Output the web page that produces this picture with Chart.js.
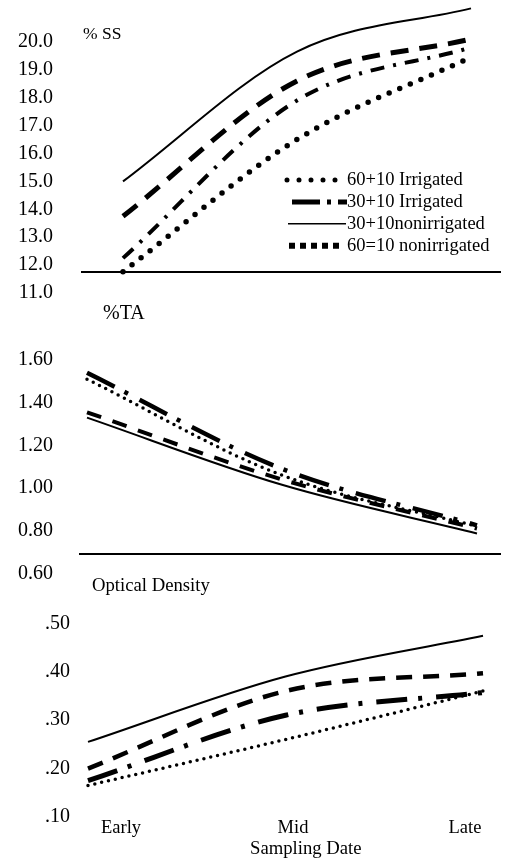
<!DOCTYPE html>
<html>
<head>
<meta charset="utf-8">
<script src="https://cdn.jsdelivr.net/npm/chart.js@4.4.1/dist/chart.umd.min.js"></script>
<style>
  html, body { margin: 0; padding: 0; background: #fff; overflow: hidden; }
  body { width: 508px; height: 859px; position: relative; font-family: 'Liberation Serif', 'Times New Roman', serif; }
  canvas { position: absolute; left: 0; }
  .lbl { position: absolute; color: #000; white-space: nowrap; line-height: 1; transform: translateY(-50%); }
</style>
</head>
<body>
<canvas id="ssChart" width="508" height="310" style="top:0"></canvas>
<canvas id="taChart" width="508" height="270" style="top:320px"></canvas>
<canvas id="odChart" width="508" height="269" style="top:590px"></canvas>
<div class="lbl" style="left:83px;top:34px;font-size:17.5px">% SS</div>
<div class="lbl" style="left:103px;top:312px;font-size:20px">%TA</div>
<div class="lbl" style="left:92px;top:585px;font-size:18.7px">Optical Density</div>
<div class="lbl" style="left:250px;top:848px;font-size:18.7px">Sampling Date</div>
<script>
const categories = ['Early', 'Mid', 'Late'];
const seriesNames = ['60+10 Irrigated', '30+10 Irrigated', '30+10nonirrigated', '60=10 nonirrigated'];

// % soluble solids
const ss60Irr = [11.76, 16.5, 19.45];
const ss30Irr = [12.25, 17.9, 19.8];
const ss30Non = [15.0, 19.65, 21.2];
const ss60Non = [13.75, 18.6, 20.1];
const ssTicks = [11, 12, 13, 14, 15, 16, 17, 18, 19, 20];

// % titratable acidity
const ta60Irr = [1.51, 1.06, 0.82];
const ta30Irr = [1.54, 1.09, 0.825];
const ta30Non = [1.33, 1.015, 0.787];
const ta60Non = [1.355, 1.04, 0.81];
const taTicks = [0.6, 0.8, 1.0, 1.2, 1.4, 1.6];

// optical density
const od60Irr = [0.165, 0.26, 0.36];
const od30Irr = [0.175, 0.31, 0.357];
const od30Non = [0.255, 0.39, 0.474];
const od60Non = [0.20, 0.36, 0.397];
const odTicks = [0.1, 0.2, 0.3, 0.4, 0.5];

Chart.defaults.font.family = "'Liberation Serif', 'Times New Roman', serif";
Chart.defaults.color = '#000';

const tickFont = { size: 20 };

const toPoints = (vals) => vals.map((v, i) => ({ x: i, y: v }));

const makeSet = (label, vals, style) => Object.assign({
  label: label,
  data: toPoints(vals),
  borderColor: '#000',
  pointRadius: 0,
  cubicInterpolationMode: 'monotone',
  fill: false,
  clip: false
}, style);

// legend keys for the top panel (drawn as in the original, not the plotted dashes)
const legendKeys = {
  id: 'legendKeys',
  afterDatasetsDraw(chart, args, opts) {
    if (!opts.keys) return;
    const ctx = chart.ctx;
    ctx.save();
    ctx.font = opts.font;
    ctx.fillStyle = '#000';
    ctx.textBaseline = 'middle';
    chart.data.datasets.forEach((ds, i) => {
      const k = opts.keys[i];
      const y = opts.top + i * opts.rowHeight;
      ctx.beginPath();
      ctx.strokeStyle = '#000';
      ctx.setLineDash(k.dash);
      ctx.lineCap = k.cap;
      ctx.lineWidth = k.width;
      ctx.moveTo(k.from, y);
      ctx.lineTo(k.to, y);
      ctx.stroke();
      ctx.setLineDash([]);
      ctx.fillText(ds.label, opts.textLeft, y);
    });
    ctx.restore();
  }
};

const baseOptions = {
  responsive: false,
  maintainAspectRatio: false,
  animation: false,
  events: [],
  plugins: { legend: { display: false }, tooltip: { enabled: false } }
};

const yAxis = (min, max, ticks, width, pad, fmt) => ({
  min: min,
  max: max,
  afterBuildTicks: (s) => { s.ticks = ticks.map(v => ({ value: v })); },
  afterFit: (s) => { s.width = width; s.paddingTop = 0; s.paddingBottom = 0; },
  ticks: { padding: pad, font: tickFont, callback: fmt },
  grid: { display: false, drawTicks: false },
  border: { display: false }
});

// top panel: % SS
new Chart(document.getElementById('ssChart'), {
  type: 'line',
  data: {
    datasets: [
      makeSet(seriesNames[0], ss60Irr, { borderWidth: 5.5, borderDash: [0, 11.5], borderCapStyle: 'round' }),
      makeSet(seriesNames[1], ss30Irr, { borderWidth: 4, borderDash: [14, 9, 3, 9] }),
      makeSet(seriesNames[2], ss30Non, { borderWidth: 2 }),
      makeSet(seriesNames[3], ss60Non, { borderWidth: 5, borderDash: [18, 11] })
    ]
  },
  options: Object.assign({}, baseOptions, {
    layout: { padding: { left: 0, right: 8, top: 5, bottom: 17 } },
    scales: {
      x: {
        type: 'linear', min: -0.2356, max: 2.1667,
        position: { y: 11.76 },
        ticks: { display: false },
        grid: { display: false, drawTicks: false },
        border: { display: true, color: '#000', width: 2 }
      },
      y: yAxis(11, 21.32, ssTicks, 82, 29, v => v.toFixed(1))
    },
    plugins: Object.assign({}, baseOptions.plugins, {
      legendKeys: {
        font: "18.5px 'Liberation Serif'",
        top: 180, rowHeight: 21.9, textLeft: 347,
        keys: [
          { dash: [0, 12], cap: 'round', width: 5, from: 287, to: 336 },
          { dash: [28, 7, 4, 7], cap: 'butt', width: 5, from: 292, to: 347 },
          { dash: [], cap: 'butt', width: 1.5, from: 288, to: 346 },
          { dash: [6, 5], cap: 'butt', width: 6, from: 289, to: 342 }
        ]
      }
    })
  }),
  plugins: [legendKeys]
});

// middle panel: %TA
new Chart(document.getElementById('taChart'), {
  type: 'line',
  data: {
    datasets: [
      makeSet(seriesNames[0], ta60Irr, { borderWidth: 3.5, borderDash: [0, 7], borderCapStyle: 'round' }),
      makeSet(seriesNames[1], ta30Irr, { borderWidth: 4.5, borderDash: [31, 11, 4, 13] }),
      makeSet(seriesNames[2], ta30Non, { borderWidth: 2 }),
      makeSet(seriesNames[3], ta60Non, { borderWidth: 4, borderDash: [15, 12] })
    ]
  },
  options: Object.assign({}, baseOptions, {
    layout: { padding: { left: 0, right: 8, top: 20, bottom: 16.7 } },
    scales: {
      x: {
        type: 'linear', min: -0.0359, max: 2.118,
        position: { y: 0.689 },
        ticks: { display: false },
        grid: { display: false, drawTicks: false },
        border: { display: true, color: '#000', width: 2 }
      },
      y: yAxis(0.6, 1.694, taTicks, 80, 27, v => v.toFixed(2))
    }
  })
});

// bottom panel: optical density
new Chart(document.getElementById('odChart'), {
  type: 'line',
  data: {
    datasets: [
      makeSet(seriesNames[0], od60Irr, { borderWidth: 3.5, borderDash: [0, 7], borderCapStyle: 'round' }),
      makeSet(seriesNames[1], od30Irr, { borderWidth: 5, borderDash: [31, 11, 4, 14] }),
      makeSet(seriesNames[2], od30Non, { borderWidth: 2 }),
      makeSet(seriesNames[3], od60Non, { borderWidth: 4.5, borderDash: [16, 11] })
    ]
  },
  options: Object.assign({}, baseOptions, {
    layout: { padding: { left: 0, right: 8, top: 10, bottom: 0 } },
    scales: {
      x: {
        type: 'linear', min: -0.0405, max: 2.086,
        display: false
      },
      xl: {
        type: 'linear', axis: 'x', position: 'bottom',
        min: -0.2384, max: 2.2035,
        afterBuildTicks: (s) => { s.ticks = categories.map((c, i) => ({ value: i })); },
        afterFit: (s) => { s.height = 42; },
        ticks: { padding: 0, font: { size: 18.5 }, maxRotation: 0, autoSkip: false,
                 callback: v => categories[v] },
        grid: { display: false, drawTicks: false },
        border: { display: false }
      },
      y: yAxis(0.1, 0.548, odTicks, 80, 10, v => v.toFixed(2).replace(/^0/, ''))
    }
  })
});
</script>
</body>
</html>
